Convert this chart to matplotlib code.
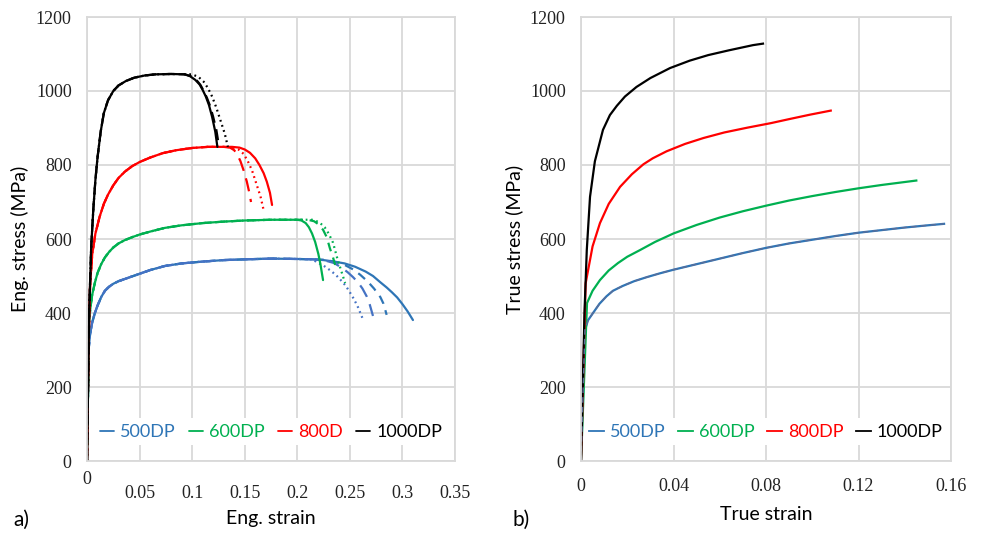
import matplotlib
matplotlib.use("Agg")
import matplotlib.pyplot as plt
import matplotlib.transforms as mtransforms

# ---- colours of the four grades
c500, c500b = '#2E75B6', '#4472C4'
c600 = '#00B050'
c800 = '#FF0000'
c1000 = '#000000'

# ---- a) engineering curves (common part before necking + tails)
e500 = [0, 0.0015, 0.003, 0.005, 0.0075, 0.01, 0.0135, 0.017, 0.021, 0.025, 0.03, 0.036, 0.043,
        0.05, 0.06, 0.074, 0.09, 0.11, 0.13, 0.15, 0.175, 0.2, 0.215]
s500 = [0, 300, 345, 375, 400, 420, 443, 460, 471, 479, 486, 492, 499,
        506, 516, 527, 534, 539, 543, 545, 547, 546, 545]
e500_solid = [0.225, 0.235, 0.245, 0.255, 0.265, 0.272, 0.279, 0.285, 0.29, 0.295, 0.3, 0.305, 0.31]
s500_solid = [543, 539, 534, 525, 512, 500, 483, 469, 456, 442, 424, 404, 381]
e500_dash1 = [0.225, 0.235, 0.245, 0.253, 0.26, 0.267, 0.273, 0.279, 0.282, 0.285]
s500_dash1 = [544, 539, 530, 518, 503, 485, 466, 443, 425, 395]
e500_dash2 = [0.225, 0.235, 0.242, 0.248, 0.253, 0.258, 0.262, 0.266, 0.269, 0.272]
s500_dash2 = [543, 535, 523, 510, 497, 482, 466, 445, 422, 392]
e500_dot = [0.218, 0.225, 0.232, 0.237, 0.241, 0.246, 0.25, 0.254, 0.258, 0.262]
s500_dot = [538, 528, 514, 502, 490, 474, 456, 437, 414, 386]

e600 = [0, 0.002, 0.0035, 0.005, 0.0075, 0.01, 0.0135, 0.017, 0.021, 0.025, 0.03, 0.036, 0.043,
        0.05, 0.06, 0.074, 0.09, 0.11, 0.13, 0.15, 0.175, 0.2]
s600 = [0, 380, 420, 450, 482, 508, 532, 550, 565, 577, 588, 597, 605,
        612, 620, 630, 637, 643, 647, 650, 652, 652]
e600_solid = [0.204, 0.208, 0.211, 0.214, 0.217, 0.22, 0.222, 0.2245]
s600_solid = [650, 643, 632, 615, 592, 560, 532, 489]
e600_dash = [0.21, 0.216, 0.22, 0.2245, 0.228, 0.231, 0.234, 0.236]
s600_dash = [652, 648, 640, 625, 605, 575, 550, 530]
e600_dot = [0.215, 0.221, 0.226, 0.23, 0.234, 0.238, 0.242, 0.2455]
s600_dot = [652, 645, 632, 614, 590, 548, 512, 481]

e800 = [0, 0.0015, 0.003, 0.005, 0.008, 0.012, 0.016, 0.02, 0.025, 0.03, 0.036, 0.043,
        0.05, 0.06, 0.072, 0.085, 0.1, 0.115, 0.13]
s800 = [0, 320, 480, 560, 615, 660, 695, 720, 745, 765, 782, 797,
        808, 820, 832, 840, 846, 849, 849]
e800_solid = [0.138, 0.145, 0.15, 0.155, 0.16, 0.164, 0.168, 0.171, 0.174, 0.176]
s800_solid = [849, 847, 842, 833, 818, 800, 778, 755, 725, 692]
e800_dash = [0.136, 0.14, 0.143, 0.146, 0.149, 0.152, 0.154, 0.156]
s800_dash = [847, 840, 828, 810, 785, 755, 730, 700]
e800_dot = [0.138, 0.144, 0.149, 0.153, 0.157, 0.161, 0.165, 0.168]
s800_dot = [848, 842, 830, 810, 785, 750, 715, 678]

e1000 = [0, 0.002, 0.004, 0.006, 0.008, 0.01, 0.013, 0.016, 0.02, 0.025, 0.03, 0.037,
         0.045, 0.055, 0.065, 0.08, 0.093]
s1000 = [0, 400, 580, 680, 760, 820, 890, 940, 975, 1000, 1015, 1027,
         1036, 1042, 1045, 1046, 1045]
e1000_solid = [0.098, 0.103, 0.107, 0.11, 0.113, 0.116, 0.119, 0.122, 0.124]
s1000_solid = [1040, 1030, 1018, 1003, 985, 962, 930, 890, 849]
e1000_dash = [0.099, 0.104, 0.108, 0.111, 0.114, 0.117, 0.12, 0.123, 0.125]
s1000_dash = [1040, 1030, 1016, 1000, 982, 960, 930, 895, 860]
e1000_dot = [0.1, 0.106, 0.111, 0.115, 0.119, 0.123, 0.127, 0.131, 0.134]
s1000_dot = [1045, 1038, 1025, 1008, 985, 955, 920, 885, 849]

# ---- b) true curves
t500 = [0, 0.0017, 0.003, 0.0052, 0.008, 0.011, 0.0138, 0.018, 0.023, 0.0285, 0.034, 0.04,
        0.05, 0.06, 0.07, 0.08, 0.09, 0.1, 0.11, 0.12, 0.13, 0.14, 0.15, 0.157]
ts500 = [0, 354, 380, 400, 425, 445, 460, 473, 486, 497, 507, 517,
         532, 547, 562, 576, 588, 598, 608, 617, 624, 631, 637, 641]
t600 = [0, 0.0026, 0.005, 0.0082, 0.012, 0.016, 0.02, 0.0255, 0.032, 0.04, 0.05, 0.06,
        0.07, 0.08, 0.09, 0.1, 0.11, 0.12, 0.13, 0.14, 0.145]
ts600 = [0, 427, 460, 489, 515, 535, 552, 570, 592, 615, 638, 658,
         675, 690, 704, 716, 727, 737, 746, 754, 758]
t800 = [0, 0.002, 0.005, 0.0082, 0.012, 0.0169, 0.022, 0.027, 0.031, 0.037, 0.045, 0.053,
        0.062, 0.072, 0.082, 0.09, 0.099, 0.108]
ts800 = [0, 480, 580, 643, 695, 741, 775, 802, 818, 837, 857, 873,
         888, 901, 913, 924, 936, 947]
t1000 = [0, 0.0015, 0.0025, 0.0039, 0.006, 0.0095, 0.0125, 0.0155, 0.019, 0.024, 0.03, 0.0385,
         0.047, 0.055, 0.064, 0.0744, 0.0787]
ts1000 = [0, 400, 570, 714, 810, 895, 935, 960, 985, 1011, 1035, 1062,
          1082, 1097, 1110, 1124, 1128]

names_a = ['500DP', '600DP', '800D', '1000DP']
names_b = ['500DP', '600DP', '800DP', '1000DP']

grid_c = '#D9D9D9'
tickfont = 'Liberation Serif'
labfont = 'Lato'
lw = 1.6
dot = (0, (0.8, 1.6))

fig = plt.figure(figsize=(9.82, 5.38), dpi=100)
ax1 = fig.add_axes([87/982, 77/538, 368/982, 444/538])
ax2 = fig.add_axes([581/982, 77/538, 370/982, 444/538])


def dress(ax, xmax, xstep, xpad):
    ax.set_ylim(0, 1200)
    ax.set_xlim(0, xmax)
    ax.set_yticks(range(0, 1201, 200))
    ticks = [round(i * xstep, 2) for i in range(int(round(xmax / xstep)) + 1)]
    ax.set_xticks(ticks)
    ax.set_xticklabels(['0'] + ['%g' % t for t in ticks[1:]])
    ax.grid(True, color=grid_c, lw=1.3)
    ax.set_axisbelow(True)
    for sp in ax.spines.values():
        sp.set_color(grid_c)
        sp.set_linewidth(1.3)
    ax.tick_params(length=0, labelsize=13, colors='#222222')
    ax.tick_params(axis='y', pad=11)
    ax.tick_params(axis='x', pad=xpad)
    for lab in ax.get_xticklabels() + ax.get_yticklabels():
        lab.set_fontfamily(tickfont)


def legend(ax):
    leg = ax.legend(ncol=4, loc='lower center', bbox_to_anchor=(0.5, 0.015),
                    frameon=True, fancybox=False, edgecolor='none', facecolor='white',
                    framealpha=1, handlelength=0.8, handletextpad=0.35,
                    columnspacing=0.7, borderpad=0.3, labelcolor='linecolor',
                    prop={'family': labfont, 'size': 13})
    for h in leg.get_lines():
        h.set_linewidth(1.3)
    return leg


# a) engineering
groups = [
    (e500, s500, names_a[0], [(e500_solid, s500_solid, '-', c500),
                              (e500_dash1, s500_dash1, (0, (4, 3)), c500),
                              (e500_dash2, s500_dash2, (0, (6, 3.5)), c500b),
                              (e500_dot, s500_dot, dot, c500b)]),
    (e600, s600, names_a[1], [(e600_solid, s600_solid, '-', c600),
                              (e600_dash, s600_dash, (0, (4, 3)), c600),
                              (e600_dot, s600_dot, dot, c600)]),
    (e800, s800, names_a[2], [(e800_solid, s800_solid, '-', c800),
                              (e800_dash, s800_dash, (0, (6, 3.5)), c800),
                              (e800_dot, s800_dot, dot, c800)]),
    (e1000, s1000, names_a[3], [(e1000_solid, s1000_solid, '-', c1000),
                                (e1000_dash, s1000_dash, (0, (5, 3)), c1000),
                                (e1000_dot, s1000_dot, dot, c1000)]),
]
for e, s, name, tails in groups:
    first = True
    for te, ts, ls, tc in tails:
        ax1.plot(e + te, s + ts, ls=ls, color=tc, lw=lw,
                 label=name if first else None, solid_capstyle='round')
        first = False

dress(ax1, 0.35, 0.05, 17)
legend(ax1)
# the zero of the strain axis sits a bit higher in the original
off = mtransforms.ScaledTranslation(0, 14 / 100, fig.dpi_scale_trans)
lab0 = ax1.get_xticklabels()[0]
lab0.set_transform(lab0.get_transform() + off)

# b) true
for t, ts, col, name in [(t500, ts500, c500, names_b[0]), (t600, ts600, c600, names_b[1]),
                         (t800, ts800, c800, names_b[2]), (t1000, ts1000, c1000, names_b[3])]:
    ax2.plot(t, ts, color=col, lw=lw, label=name)
ax2.plot(t500, ts500, color='#5A6E9A', lw=1.0, ls=(0, (4, 3)))

dress(ax2, 0.16, 0.04, 12)
legend(ax2)

ax1.set_xlabel('Eng. strain', fontfamily=labfont, fontsize=14, labelpad=6)
ax1.set_ylabel('Eng. stress (MPa)', fontfamily=labfont, fontsize=14, labelpad=5)
ax2.set_xlabel('True strain', fontfamily=labfont, fontsize=14, labelpad=8)
ax2.set_ylabel('True stress (MPa)', fontfamily=labfont, fontsize=14, labelpad=5)

fig.text(13/982, 1 - 520/538, 'a)', fontfamily=labfont, fontsize=15, va='center')
fig.text(512/982, 1 - 520/538, 'b)', fontfamily=labfont, fontsize=15, va='center')

fig.savefig('out.png', dpi=100, facecolor='white')
